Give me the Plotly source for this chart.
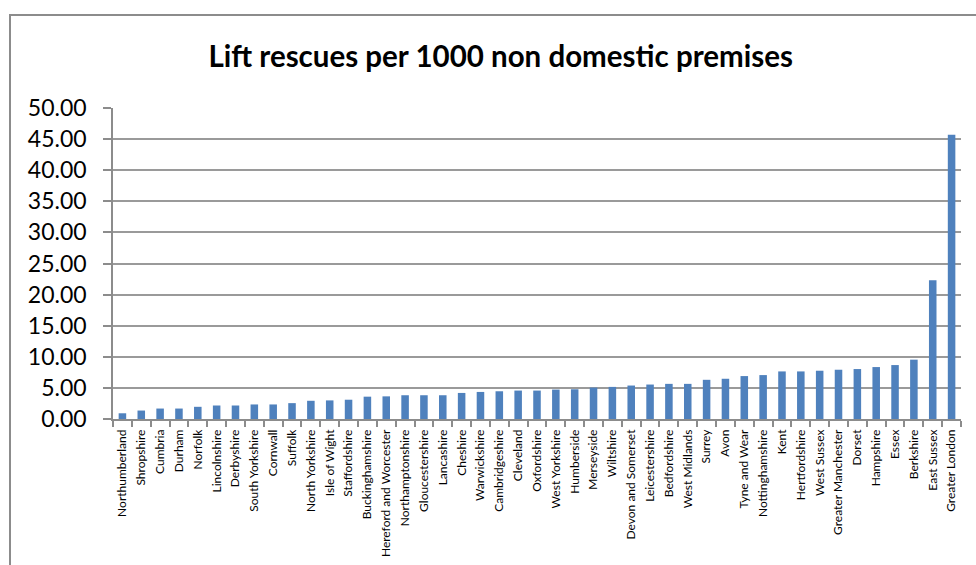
import plotly.graph_objects as go

# Fire and rescue service areas, sorted by rate
areas = [
    "Northumberland", "Shropshire", "Cumbria", "Durham", "Norfolk",
    "Lincolnshire", "Derbyshire", "South Yorkshire", "Cornwall", "Suffolk",
    "North Yorkshire", "Isle of Wight", "Staffordshire", "Buckinghamshire",
    "Hereford and Worcester", "Northamptonshire", "Gloucestershire",
    "Lancashire", "Cheshire", "Warwickshire", "Cambridgeshire", "Cleveland",
    "Oxfordshire", "West Yorkshire", "Humberside", "Merseyside", "Wiltshire",
    "Devon and Somerset", "Leicestershire", "Bedfordshire", "West Midlands",
    "Surrey", "Avon", "Tyne and Wear", "Nottinghamshire", "Kent",
    "Hertfordshire", "West Sussex", "Greater Manchester", "Dorset",
    "Hampshire", "Essex", "Berkshire", "East Sussex", "Greater London",
]

# Lift rescues per 1000 non domestic premises
rescues_per_1000 = [
    0.92, 1.36, 1.68, 1.68, 1.96,
    2.17, 2.17, 2.34, 2.34, 2.55,
    2.93, 2.99, 3.10, 3.59,
    3.64, 3.82, 3.82,
    3.82, 4.19, 4.35, 4.46, 4.57,
    4.57, 4.73, 4.78, 5.05, 5.16,
    5.38, 5.54, 5.65, 5.65,
    6.30, 6.47, 6.90, 7.06, 7.65,
    7.65, 7.76, 7.92, 8.03,
    8.35, 8.67, 9.54, 22.30, 45.70,
]

y_ticks = [0, 5, 10, 15, 20, 25, 30, 35, 40, 45, 50]

fig = go.Figure(
    go.Bar(
        x=areas,
        y=rescues_per_1000,
        marker=dict(color="#4F81BD", line=dict(width=0)),
    )
)

fig.update_layout(
    width=976,
    height=565,
    margin=dict(l=113, r=15, t=108, b=146),
    paper_bgcolor="white",
    plot_bgcolor="white",
    bargap=0.6,
    showlegend=False,
    title=dict(
        text="<b>Lift rescues per 1000 non domestic premises</b>",
        x=0.513,
        xanchor="center",
        y=1 - 57 / 565,
        yanchor="middle",
        font=dict(family="Lato, sans-serif", size=29.5, color="black"),
    ),
    font=dict(family="Lato, sans-serif", color="black"),
)

fig.update_yaxes(
    range=[0, 50],
    tickvals=y_ticks,
    tickformat=".2f",
    automargin=False,
    showgrid=True,
    gridcolor="#9a9a9a",
    gridwidth=1.5,
    showline=True,
    linecolor="#8c8c8c",
    linewidth=1.5,
    ticks="outside",
    ticklen=8,
    tickcolor="#8c8c8c",
    tickwidth=1.5,
    ticklabelstandoff=12,
    tickfont=dict(size=23, family="Lato, sans-serif", color="black"),
    zeroline=False,
)

fig.update_xaxes(
    type="category",
    automargin=False,
    tickangle=-90,
    tickson="boundaries",
    ticks="outside",
    ticklen=6,
    tickcolor="#8c8c8c",
    tickwidth=1.5,
    showline=True,
    linecolor="#8c8c8c",
    linewidth=1.5,
    showgrid=False,
    ticklabelstandoff=4,
    tickfont=dict(size=12, family="Lato, sans-serif", color="black"),
)

# Chart-area border (runs off the right and bottom edges)
fig.add_shape(
    type="rect",
    xref="paper", yref="paper",
    x0=(10 - 113) / 848, x1=1.1,
    y0=-0.8, y1=(419 - 15) / 311,
    line=dict(color="#8c8c8c", width=2),
    fillcolor="rgba(0,0,0,0)",
    layer="below",
)

fig.write_html("out.html")
